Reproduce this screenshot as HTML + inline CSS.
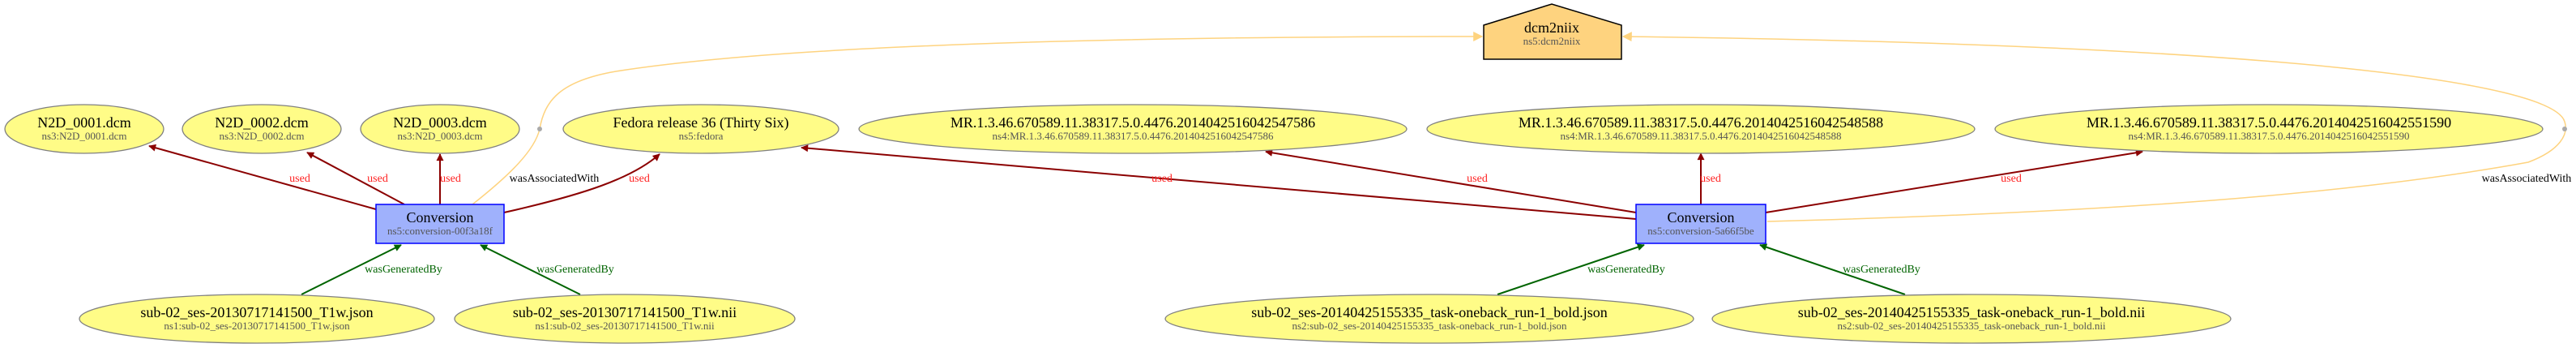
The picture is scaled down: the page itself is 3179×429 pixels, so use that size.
<!DOCTYPE html>
<html><head><meta charset="utf-8"><style>
html,body{margin:0;padding:0;background:#fff;}
svg{display:block;}
text{font-family:"Liberation Serif",serif;text-anchor:middle;}
.t{font-size:18px;fill:#000;}
.s{font-size:13px;fill:#555;}
.u{font-size:14px;fill:#ff2020;}
.g{font-size:14px;fill:#006400;}
.a{font-size:14px;fill:#000;}
.e{fill:#fffc87;stroke:#808080;stroke-width:1.3;}
.r{stroke:#8b0000;stroke-width:2;fill:none;}
.gr{stroke:#006400;stroke-width:2;fill:none;}
.o{stroke:#fed37f;stroke-width:1.5;fill:none;}
</style></head><body>
<svg width="3179" height="429" viewBox="0 0 3179 429" xmlns="http://www.w3.org/2000/svg">
<defs>
<marker id="mr" viewBox="0 0 10 10" refX="9" refY="5" markerWidth="10" markerHeight="9" orient="auto" markerUnits="userSpaceOnUse"><path d="M0,0L10,5L0,10z" fill="#8b0000"/></marker>
<marker id="mg" viewBox="0 0 10 10" refX="9" refY="5" markerWidth="10" markerHeight="9" orient="auto" markerUnits="userSpaceOnUse"><path d="M0,0L10,5L0,10z" fill="#006400"/></marker>
<marker id="mo" viewBox="0 0 10 10" refX="9" refY="5" markerWidth="12" markerHeight="12" orient="auto" markerUnits="userSpaceOnUse"><path d="M0,0L10,5L0,10z" fill="#fed37f"/></marker>
</defs>

<path class="o" d="M583,252 C630,215 660,185 666,159 C672,125 690,100 760,88 C1000,50 1500,45 1829,45" marker-end="url(#mo)"/>
<path class="o" d="M2181,273 C2600,262 2900,240 3120,200 C3160,185 3170,165 3165,150 C3150,100 2800,55 2003,45" marker-end="url(#mo)"/>
<circle cx="666" cy="159" r="3" fill="#aaa"/>
<circle cx="3165" cy="159" r="3" fill="#aaa"/>

<line class="r" x1="464" y1="258" x2="184" y2="180" marker-end="url(#mr)"/>
<line class="r" x1="499" y1="252" x2="379" y2="188" marker-end="url(#mr)"/>
<line class="r" x1="543" y1="252" x2="543" y2="190" marker-end="url(#mr)"/>
<path class="r" d="M622,262 C720,240 780,220 814,190" marker-end="url(#mr)"/>
<line class="r" x1="2019" y1="270" x2="989" y2="182" marker-end="url(#mr)"/>
<line class="r" x1="2019" y1="262" x2="1562" y2="187" marker-end="url(#mr)"/>
<line class="r" x1="2099" y1="252" x2="2099" y2="189" marker-end="url(#mr)"/>
<line class="r" x1="2179" y1="262" x2="2644" y2="187" marker-end="url(#mr)"/>

<line class="gr" x1="372" y1="363" x2="495" y2="302" marker-end="url(#mg)"/>
<line class="gr" x1="716" y1="363" x2="593" y2="302" marker-end="url(#mg)"/>
<line class="gr" x1="1848" y1="363" x2="2029" y2="302" marker-end="url(#mg)"/>
<line class="gr" x1="2351" y1="363" x2="2172" y2="302" marker-end="url(#mg)"/>

<text class="u" x="370" y="224">used</text>
<text class="u" x="466" y="224">used</text>
<text class="u" x="556" y="224">used</text>
<text class="u" x="789" y="224">used</text>
<text class="a" x="684" y="224">wasAssociatedWith</text>
<text class="g" x="498" y="336">wasGeneratedBy</text>
<text class="g" x="710" y="336">wasGeneratedBy</text>
<text class="u" x="1434" y="224">used</text>
<text class="u" x="1823" y="224">used</text>
<text class="u" x="2111" y="224">used</text>
<text class="u" x="2482" y="224">used</text>
<text class="g" x="2007" y="336">wasGeneratedBy</text>
<text class="g" x="2322" y="336">wasGeneratedBy</text>
<text class="a" x="3118" y="224">wasAssociatedWith</text>

<path d="M1831,31 L1915,5 L2001,31 L2001,73 L1831,73 Z" fill="#fed37f" stroke="#000" stroke-width="1.5"/>
<text class="t" x="1915" y="40">dcm2niix</text>
<text class="s" x="1915" y="55">ns5:dcm2niix</text>

<ellipse class="e" cx="104" cy="159" rx="98" ry="30"/>
<text class="t" x="104" y="157">N2D_0001.dcm</text><text class="s" x="104" y="172">ns3:N2D_0001.dcm</text>
<ellipse class="e" cx="323" cy="159" rx="98" ry="30"/>
<text class="t" x="323" y="157">N2D_0002.dcm</text><text class="s" x="323" y="172">ns3:N2D_0002.dcm</text>
<ellipse class="e" cx="543" cy="159" rx="98" ry="30"/>
<text class="t" x="543" y="157">N2D_0003.dcm</text><text class="s" x="543" y="172">ns3:N2D_0003.dcm</text>
<ellipse class="e" cx="865" cy="159" rx="170" ry="30"/>
<text class="t" x="865" y="157">Fedora release 36 (Thirty Six)</text><text class="s" x="865" y="172">ns5:fedora</text>
<ellipse class="e" cx="1398" cy="159" rx="338" ry="30"/>
<text class="t" x="1398" y="157">MR.1.3.46.670589.11.38317.5.0.4476.2014042516042547586</text><text class="s" x="1398" y="172">ns4:MR.1.3.46.670589.11.38317.5.0.4476.2014042516042547586</text>
<ellipse class="e" cx="2099" cy="159" rx="338" ry="30"/>
<text class="t" x="2099" y="157">MR.1.3.46.670589.11.38317.5.0.4476.2014042516042548588</text><text class="s" x="2099" y="172">ns4:MR.1.3.46.670589.11.38317.5.0.4476.2014042516042548588</text>
<ellipse class="e" cx="2800" cy="159" rx="338" ry="30"/>
<text class="t" x="2800" y="157">MR.1.3.46.670589.11.38317.5.0.4476.2014042516042551590</text><text class="s" x="2800" y="172">ns4:MR.1.3.46.670589.11.38317.5.0.4476.2014042516042551590</text>

<rect x="464" y="252" width="158" height="48" fill="#9fb1fc" stroke="#0000ff" stroke-width="1.5"/>
<text class="t" x="543" y="274">Conversion</text><text class="s" x="543" y="289">ns5:conversion-00f3a18f</text>
<rect x="2019" y="252" width="160" height="48" fill="#9fb1fc" stroke="#0000ff" stroke-width="1.5"/>
<text class="t" x="2099" y="274">Conversion</text><text class="s" x="2099" y="289">ns5:conversion-5a66f5be</text>

<ellipse class="e" cx="317" cy="393" rx="219" ry="30"/>
<text class="t" x="317" y="391">sub-02_ses-20130717141500_T1w.json</text><text class="s" x="317" y="406">ns1:sub-02_ses-20130717141500_T1w.json</text>
<ellipse class="e" cx="771" cy="393" rx="210" ry="30"/>
<text class="t" x="771" y="391">sub-02_ses-20130717141500_T1w.nii</text><text class="s" x="771" y="406">ns1:sub-02_ses-20130717141500_T1w.nii</text>
<ellipse class="e" cx="1764" cy="393" rx="326" ry="30"/>
<text class="t" x="1764" y="391">sub-02_ses-20140425155335_task-oneback_run-1_bold.json</text><text class="s" x="1764" y="406">ns2:sub-02_ses-20140425155335_task-oneback_run-1_bold.json</text>
<ellipse class="e" cx="2433" cy="393" rx="320" ry="30"/>
<text class="t" x="2433" y="391">sub-02_ses-20140425155335_task-oneback_run-1_bold.nii</text><text class="s" x="2433" y="406">ns2:sub-02_ses-20140425155335_task-oneback_run-1_bold.nii</text>
</svg>
</body></html>
